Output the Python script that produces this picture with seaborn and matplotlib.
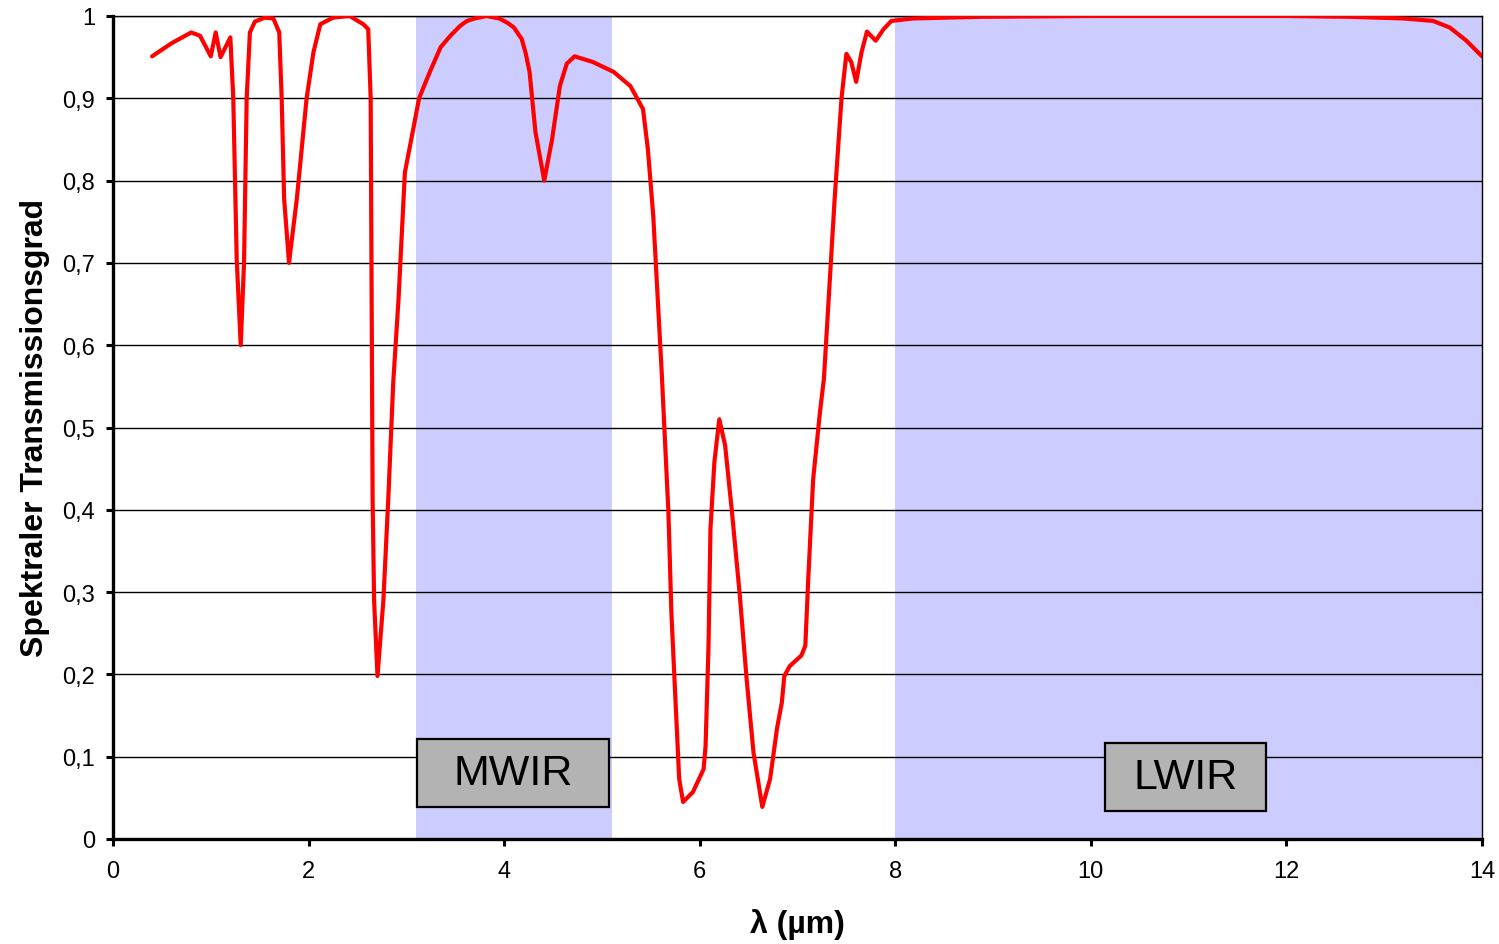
import matplotlib
matplotlib.use("Agg")
import matplotlib.pyplot as plt
from matplotlib.patches import Rectangle
import seaborn as sns
import pandas as pd

# wavelength in micrometre
wavelength = [0.40, 0.60, 0.80, 0.89, 1.00, 1.05, 1.10, 1.20, 1.23, 1.265,
              1.306, 1.34, 1.367, 1.40, 1.45, 1.55, 1.64, 1.70, 1.725, 1.75,
              1.80, 1.88, 1.98, 2.05, 2.12, 2.25, 2.42, 2.56, 2.61, 2.635,
              2.645, 2.655, 2.67, 2.705, 2.765, 2.815, 2.866, 2.92, 2.985, 3.05,
              3.13, 3.24, 3.35, 3.45, 3.55, 3.62, 3.70, 3.82, 3.95, 4.03,
              4.10, 4.18, 4.22, 4.26, 4.32, 4.41, 4.49, 4.57, 4.64, 4.72,
              4.91, 5.12, 5.29, 5.42, 5.47, 5.525, 5.61, 5.68, 5.71, 5.75,
              5.79, 5.83, 5.93, 6.04, 6.06, 6.09, 6.11, 6.15, 6.20, 6.26,
              6.33, 6.41, 6.48, 6.55, 6.64, 6.72, 6.79, 6.84, 6.865, 6.92,
              7.04, 7.08, 7.11, 7.16, 7.23, 7.27, 7.38, 7.45, 7.50, 7.55,
              7.60, 7.655, 7.71, 7.80, 7.88, 7.96, 8.18, 8.87, 10.0, 11.0,
              12.0, 12.65, 13.2, 13.50, 13.67, 13.84, 14.0]
transmission = [0.951, 0.967, 0.980, 0.976, 0.951, 0.980, 0.950, 0.974, 0.900, 0.705,
                0.600, 0.700, 0.900, 0.980, 0.993, 0.998, 0.997, 0.980, 0.900, 0.778,
                0.700, 0.778, 0.900, 0.956, 0.990, 0.998, 1.000, 0.990, 0.984, 0.900,
                0.656, 0.413, 0.290, 0.198, 0.290, 0.413, 0.555, 0.656, 0.810, 0.850,
                0.900, 0.932, 0.962, 0.976, 0.988, 0.994, 0.997, 1.000, 0.997, 0.992,
                0.986, 0.972, 0.955, 0.932, 0.859, 0.800, 0.850, 0.915, 0.942, 0.951,
                0.944, 0.932, 0.915, 0.887, 0.838, 0.757, 0.570, 0.397, 0.276, 0.174,
                0.073, 0.045, 0.057, 0.085, 0.113, 0.235, 0.377, 0.458, 0.510, 0.478,
                0.397, 0.296, 0.194, 0.105, 0.039, 0.073, 0.134, 0.166, 0.198, 0.210,
                0.223, 0.235, 0.316, 0.437, 0.519, 0.559, 0.778, 0.900, 0.954, 0.944,
                0.920, 0.956, 0.981, 0.970, 0.984, 0.994, 0.997, 0.999, 1.000, 1.000,
                1.000, 0.999, 0.997, 0.994, 0.986, 0.970, 0.951]

band_names = ["MWIR", "LWIR"]
band_start = [3.1, 8.0]
band_end = [5.1, 14.0]

x_ticks = [0, 2, 4, 6, 8, 10, 12, 14]
y_ticks = [0, 0.1, 0.2, 0.3, 0.4, 0.5, 0.6, 0.7, 0.8, 0.9, 1.0]
y_tick_labels = ["0", "0,1", "0,2", "0,3", "0,4", "0,5", "0,6", "0,7", "0,8", "0,9", "1"]

# label boxes (x0, x1, y0, y1) in data units
box_x0 = [3.11, 10.14]
box_x1 = [5.07, 11.79]
box_y0 = [0.039, 0.034]
box_y1 = [0.121, 0.117]

df = pd.DataFrame({"wl": wavelength, "T": transmission})

sns.set_style("white")
plt.rcParams["font.family"] = ["Liberation Sans", "DejaVu Sans"]
plt.rcParams["text.color"] = "black"
plt.rcParams["axes.labelcolor"] = "black"
plt.rcParams["xtick.color"] = "black"
plt.rcParams["ytick.color"] = "black"

fig = plt.figure(figsize=(14.99, 9.45), dpi=100)
ax = fig.add_axes([113 / 1499, 1 - 840 / 945, (1482 - 113) / 1499, (840 - 17) / 945])

for s, e in zip(band_start, band_end):
    ax.axvspan(s, e, color="#ccccff", lw=0, zorder=0)

ax.yaxis.grid(True, color="black", lw=1, zorder=0.5)
ax.xaxis.grid(False)

sns.lineplot(data=df, x="wl", y="T", ax=ax, color="#ff0000", lw=3, sort=False,
             zorder=3, solid_joinstyle="round", solid_capstyle="round")

for name, x0, x1, y0, y1 in zip(band_names, box_x0, box_x1, box_y0, box_y1):
    ax.add_patch(Rectangle((x0, y0), x1 - x0, y1 - y0, facecolor="#b3b3b3",
                           edgecolor="black", lw=1.6, zorder=4))
    ax.text((x0 + x1) / 2, (y0 + y1) / 2, name, ha="center", va="center",
            fontsize=31, color="black", zorder=5)

ax.set_xlim(0, 14)
ax.set_ylim(0, 1)
ax.set_xticks(x_ticks)
ax.set_xticklabels([str(v) for v in x_ticks])
ax.set_yticks(y_ticks)
ax.set_yticklabels(y_tick_labels)
ax.tick_params(axis="both", which="major", direction="out", length=5, width=2.2,
               labelsize=17, colors="black", bottom=True, left=True)
ax.tick_params(axis="x", pad=10)
ax.tick_params(axis="y", pad=8)

for side in ["left", "bottom"]:
    ax.spines[side].set_linewidth(2.4)
    ax.spines[side].set_color("black")
for side in ["top", "right"]:
    ax.spines[side].set_linewidth(1)
    ax.spines[side].set_color("black")

ax.set_xlabel("λ (µm)", fontsize=23, fontweight="bold", labelpad=19)
ax.set_ylabel("Spektraler Transmissionsgrad", fontsize=23, fontweight="bold", labelpad=9)

fig.savefig("out.png", dpi=100)
